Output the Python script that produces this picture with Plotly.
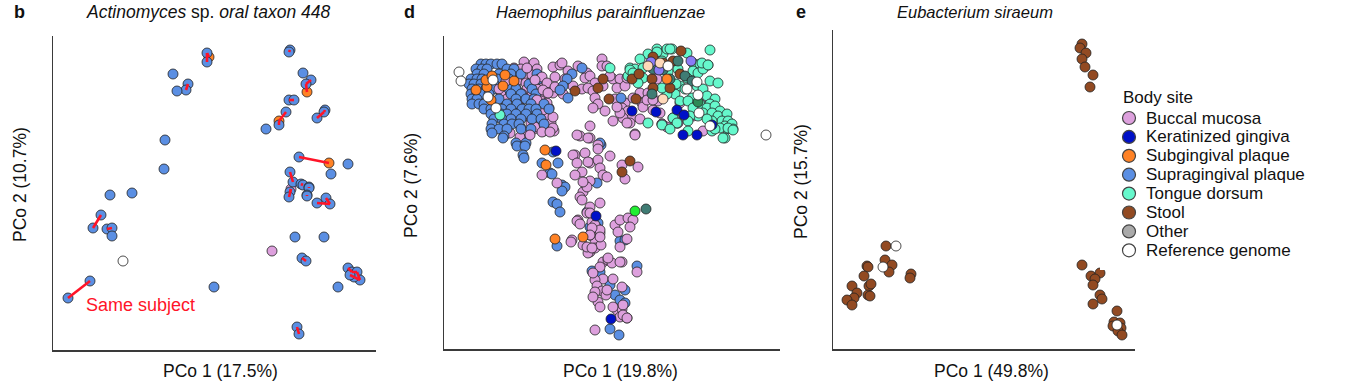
import plotly.graph_objects as go
from itertools import zip_longest

W, H = 1359, 389
FONT = "Liberation Sans, Arial, Helvetica, sans-serif"

# ---------------- colours ----------------
site_colors = {
    "Buccal mucosa": "#DDA0DD",
    "Keratinized gingiva": "#0010C8",
    "Subgingival plaque": "#FF8225",
    "Supragingival plaque": "#5B8FE3",
    "Tongue dorsum": "#66F8CC",
    "Stool": "#924A22",
    "Other": "#AAAAAA",
    "Reference genome": "#FFFFFF",
    "Other (teal)": "#3F7C74",
    "Other (violet)": "#8A7CF6",
    "Other (peach)": "#FFD9BA",
    "Other (green)": "#22EE33",
    "Other (seagreen)": "#2E8B57",
}
legend_sites = ["Buccal mucosa", "Keratinized gingiva", "Subgingival plaque",
                "Supragingival plaque", "Tongue dorsum", "Stool", "Other",
                "Reference genome"]
code = {"BM": "Buccal mucosa", "SbP": "Subgingival plaque", "SpP": "Supragingival plaque",
        "REF": "Reference genome"}

# ---------------- panel b: Actinomyces sp. oral taxon 448 ----------------
b_x = [209, 207, 207, 173, 188, 186, 177, 290, 289, 303, 311, 306, 307, 289, 294,
       325, 324, 317, 286, 279, 279, 266, 165, 164, 299, 329, 348, 331, 290, 293,
       301, 303, 309, 309, 307, 307, 290, 291, 289, 326, 330, 317, 110, 132, 101,
       93, 107, 112, 112, 295, 324, 272, 123, 302, 306, 348, 352, 357, 360, 354,
       350, 338, 90, 68, 214, 297, 299]
b_y = [57, 53, 62, 74, 84, 90, 91, 50, 52, 73, 80, 84, 92, 100, 100,
       110, 112, 118, 112, 121, 125, 129, 140, 169, 157, 163, 164, 174, 172, 182,
       184, 185, 187, 188, 195, 196, 192, 189, 197, 198, 204, 203, 195, 193, 215,
       228, 229, 228, 236, 237, 237, 251, 261, 258, 261, 268, 272, 272, 280, 277,
       275, 287, 281, 298, 287, 327, 334]
b_site = ["SbP", "SpP", "SpP", "SpP", "SpP", "SpP", "SpP", "SpP", "SpP", "SpP", "SpP", "SpP", "SbP", "SpP", "SpP",
          "SpP", "SpP", "SpP", "SpP", "SbP", "SpP", "SpP", "SpP", "SpP", "SpP", "SbP", "SpP", "SpP", "SpP", "SpP",
          "SpP", "SpP", "SpP", "SpP", "SpP", "SpP", "SpP", "BM", "SpP", "SpP", "SpP", "SpP", "SpP", "SpP", "SpP",
          "SpP", "SpP", "SpP", "SpP", "SpP", "SpP", "BM", "REF", "SpP", "SpP", "SpP", "SpP", "SpP", "SpP", "SpP",
          "SpP", "SpP", "SpP", "SpP", "SpP", "SpP", "SpP"]
b_subject = [1, 1, 1, 0, 2, 2, 0, 3, 3, 0, 4, 4, 4, 5, 5,
             6, 6, 6, 8, 8, 8, 0, 0, 0, 9, 9, 0, 0, 10, 10,
             11, 11, 12, 12, 13, 13, 14, 14, 14, 15, 15, 15, 0, 0, 16,
             16, 17, 17, 0, 0, 0, 0, 0, 18, 18, 19, 19, 19, 19, 19,
             19, 0, 20, 20, 0, 21, 21]

# ---------------- panel d: Haemophilus parainfluenzae ----------------
d_points = {
    "Supragingival plaque": [
        (481, 64), (486, 64), (491, 64), (497, 64), (502, 64),
        (476, 69), (482, 69), (487, 69), (507, 69), (514, 69),
        (477, 74), (484, 74), (499, 74), (511, 74), (521, 74), (537, 74),
        (471, 79), (477, 79), (482, 79), (497, 79), (509, 79), (539, 79),
        (469, 84), (474, 84), (481, 84), (494, 84), (511, 84), (529, 84),
        (472, 89), (479, 89), (486, 89), (494, 89), (509, 89), (516, 89), (532, 89),
        (471, 94), (477, 94), (482, 94), (489, 94), (511, 94), (521, 94), (536, 94),
        (472, 99), (477, 99), (499, 99), (516, 99), (526, 99), (534, 99),
        (472, 104), (479, 104), (484, 104), (507, 104), (517, 104), (531, 104), (544, 104),
        (484, 109), (491, 109), (502, 109), (511, 109), (522, 109), (529, 109), (536, 109), (549, 109),
        (491, 114), (501, 114), (507, 114), (516, 114), (526, 114), (537, 114),
        (494, 119), (502, 119), (511, 119), (521, 119), (532, 119), (541, 119),
        (492, 124), (504, 124), (512, 124), (519, 124), (544, 124),
        (491, 129), (499, 129), (507, 129), (521, 129), (531, 129),
        (504, 136), (516, 143), (526, 143),
        (492, 133), (503, 138), (517, 146), (525, 146), (523, 155), (524, 158), (542, 163),
        (558, 163), (550, 173), (553, 152), (552, 174), (562, 185), (565, 187), (562, 191),
        (553, 202), (557, 204), (560, 212), (597, 183), (598, 223), (590, 227), (557, 246),
        (620, 241), (625, 240), (637, 266), (592, 271), (600, 272), (610, 285), (625, 290),
        (615, 295), (620, 300), (625, 303), (610, 329), (619, 335), (601, 145), (587, 212),
        (572, 74), (567, 79), (563, 86), (568, 98), (621, 98), (600, 143), (582, 68), (560, 90)],
    "Buccal mucosa": [
        (524, 62), (534, 63), (514, 68), (521, 69), (529, 71), (537, 69), (512, 74), (524, 76),
        (532, 75), (541, 77), (517, 81), (526, 83), (536, 83), (544, 83), (506, 86), (516, 88),
        (527, 89), (537, 89), (546, 89), (501, 93), (511, 94), (522, 94), (532, 95), (542, 95),
        (507, 99), (519, 101), (531, 101), (541, 101), (506, 106), (521, 108), (534, 108),
        (549, 108), (524, 116), (536, 116), (547, 118), (511, 119), (531, 123), (541, 123),
        (551, 123), (521, 128), (534, 129), (544, 131), (554, 131), (527, 133), (499, 89),
        (506, 81), (527, 68), (542, 77), (535, 80), (547, 83), (543, 90), (553, 93), (537, 100),
        (547, 103), (543, 110), (553, 117), (553, 128), (535, 127), (528, 132), (520, 137),
        (510, 133), (553, 67), (560, 65), (555, 77), (555, 87), (548, 93),
        (562, 63), (568, 71), (578, 66), (587, 73), (585, 78), (590, 76), (602, 59), (602, 66),
        (607, 66), (595, 83), (603, 86), (613, 79), (620, 79), (617, 88), (625, 86), (627, 78),
        (573, 86), (582, 89), (588, 88), (593, 91), (565, 79), (563, 94), (595, 98), (598, 104),
        (593, 108), (605, 111), (615, 99), (625, 103), (642, 103), (640, 93), (622, 108),
        (628, 111), (632, 118), (623, 118), (613, 121), (640, 119), (662, 124), (590, 126),
        (580, 136), (590, 138), (635, 134), (630, 123), (610, 76), (648, 93), (658, 101),
        (657, 79), (653, 110), (660, 113), (673, 118), (677, 123), (667, 127), (627, 123),
        (620, 113), (617, 107), (643, 107), (647, 100), (653, 100), (633, 98), (680, 103),
        (675, 119), (678, 123), (662, 124), (693, 116), (703, 131), (702, 98),
        (530, 135), (542, 132), (550, 132), (577, 135), (588, 138), (598, 145), (575, 155),
        (590, 163), (598, 160), (582, 172), (575, 175), (587, 183), (590, 181), (583, 192),
        (580, 197), (582, 200), (590, 207), (542, 175), (557, 183), (578, 220), (587, 213),
        (592, 222), (597, 228), (572, 240), (595, 240),
        (571, 242), (590, 235), (600, 233), (583, 245), (590, 252), (595, 248), (601, 245),
        (588, 253), (603, 262), (608, 260), (612, 263), (622, 262), (637, 272), (603, 279),
        (595, 280), (613, 279), (597, 286), (602, 291), (595, 292), (606, 295), (598, 302),
        (600, 307), (622, 287), (617, 310), (622, 309), (623, 305), (620, 317), (627, 318),
        (595, 330), (623, 315),
        (598, 149), (610, 156), (635, 135), (622, 165), (638, 167), (625, 179), (600, 168),
        (603, 175), (607, 177), (587, 187), (600, 203), (590, 213), (615, 225), (620, 220),
        (628, 218), (633, 220), (630, 227), (595, 225), (600, 230), (592, 228), (600, 237),
        (590, 235), (618, 232), (627, 239), (620, 247), (608, 258), (620, 262), (600, 267),
        (593, 273), (607, 290), (593, 297), (613, 307), (627, 318), (573, 155), (585, 153),
        (577, 163), (588, 162), (583, 182), (577, 221), (580, 224), (587, 247), (592, 248)],
    "Tongue dorsum": [
        (500, 115), (610, 68), (648, 123), (657, 49), (648, 54), (640, 59), (630, 68), (635, 69),
        (643, 68), (643, 78), (638, 83), (628, 76), (663, 54), (662, 61), (667, 49), (662, 125),
        (672, 49), (687, 53), (710, 50), (693, 63), (700, 64), (708, 65), (693, 71), (698, 73),
        (703, 69), (687, 78), (678, 69), (680, 86), (685, 89), (675, 94), (667, 94), (697, 86),
        (710, 81), (718, 83), (703, 89), (692, 98), (680, 101), (688, 101), (707, 96), (715, 99),
        (700, 104), (710, 104), (707, 108), (715, 106), (720, 111), (703, 113), (712, 113),
        (693, 108), (698, 116), (718, 116), (727, 114), (722, 121), (728, 121), (725, 126),
        (732, 124), (733, 129), (727, 129), (712, 121), (707, 119), (720, 128), (690, 116),
        (688, 121), (673, 118), (677, 123), (712, 131), (715, 129), (725, 138), (688, 131),
        (670, 129), (670, 49), (657, 52), (630, 70), (633, 73), (723, 138), (728, 128),
        (733, 130), (702, 63), (708, 65), (652, 64), (668, 72), (676, 84), (662, 88)],
    "Stool": [
        (575, 91), (598, 88), (603, 79), (609, 99), (632, 79), (639, 74), (636, 99), (652, 79),
        (653, 88), (681, 51), (673, 61), (680, 74), (670, 88), (653, 57), (663, 63),
        (630, 161), (622, 172)],
    "Other (teal)": [(653, 69), (652, 94), (678, 61), (685, 76), (692, 81), (670, 79), (663, 70),
                     (646, 209)],
    "Other (violet)": [(651, 62), (659, 70), (691, 61)],
    "Other (peach)": [(648, 66), (660, 63), (663, 99)],
    "Keratinized gingiva": [(556, 151), (596, 216), (611, 319), (632, 111), (656, 112),
                            (677, 110), (684, 115), (683, 135), (697, 135), (712, 125)],
    "Subgingival plaque": [(476, 90), (487, 87), (486, 80), (492, 76), (505, 75), (514, 81),
                           (503, 86), (491, 100), (545, 150), (546, 165), (555, 239),
                           (583, 237), (667, 79)],
    "Other (green)": [(635, 211)],
    "Other (seagreen)": [(698, 102)],
    "Reference genome": [(459, 72), (461, 81), (493, 80), (488, 97), (496, 108), (668, 66),
                         (687, 89), (697, 82), (698, 95), (699, 113), (710, 126), (766, 135)],
}

# ---------------- panel e: Eubacterium siraeum ----------------
e_points = {
    "Stool": [
        (1082, 44), (1080, 48), (1086, 53), (1082, 59), (1085, 67), (1093, 75), (1090, 87),
        (886, 246), (885, 260), (892, 265), (889, 272), (867, 266), (868, 267), (864, 276),
        (852, 286), (869, 286), (871, 284), (857, 293), (854, 298), (847, 300), (852, 305),
        (868, 295), (870, 296), (911, 274), (910, 278),
        (1082, 265), (1091, 276), (1100, 273), (1095, 279), (1093, 285), (1100, 295),
        (1102, 299), (1093, 304), (1117, 311), (1114, 322), (1120, 323), (1113, 326),
        (1121, 328), (1118, 331), (1122, 335)],
    "Reference genome": [(896, 246), (883, 267), (1117, 325)],
}

fig = go.Figure()

def px(x):
    return x / W

def py(y):
    return 1 - y / H

marker_line = dict(color="#222222", width=0.8)
MS = 10

# panel b markers
order_b = ["SbP", "BM", "SpP", "REF"]
for c in order_b:
    site = code[c]
    xs = [x for x, s in zip(b_x, b_site) if s == c]
    ys = [y for y, s in zip(b_y, b_site) if s == c]
    fig.add_trace(go.Scatter(x=xs, y=ys, mode="markers", xaxis="x", yaxis="y",
                             marker=dict(size=MS, color=site_colors[site], line=marker_line),
                             showlegend=False, hoverinfo="skip"))
# same-subject lines
lx, ly = [], []
for subj in sorted(set(b_subject)):
    if subj == 0:
        continue
    idx = [i for i, s in enumerate(b_subject) if s == subj]
    for a, c in zip(idx[:-1], idx[1:]):
        lx += [b_x[a], b_x[c], None]
        ly += [b_y[a], b_y[c], None]
fig.add_trace(go.Scatter(x=lx, y=ly, mode="lines", xaxis="x", yaxis="y",
                         line=dict(color="#FF1428", width=2.6),
                         showlegend=False, hoverinfo="skip"))

# panel d markers: oral plaque and buccal samples interleaved so that neither hides the other
mixed = []
for a, b in zip_longest(d_points["Supragingival plaque"], d_points["Buccal mucosa"]):
    if b is not None:
        mixed.append((b, "Buccal mucosa"))
    if a is not None:
        mixed.append((a, "Supragingival plaque"))
for site, pts in d_points.items():
    if site in ("Supragingival plaque", "Buccal mucosa"):
        continue
    mixed += [(p, site) for p in pts]
fig.add_trace(go.Scatter(x=[p[0] for p, s in mixed], y=[p[1] for p, s in mixed],
                         mode="markers", xaxis="x2", yaxis="y2",
                         marker=dict(size=MS, color=[site_colors[s] for p, s in mixed],
                                     line=marker_line),
                         showlegend=False, hoverinfo="skip"))

# panel e markers
for site, pts in e_points.items():
    fig.add_trace(go.Scatter(x=[p[0] for p in pts], y=[p[1] for p in pts], mode="markers",
                             xaxis="x3", yaxis="y3",
                             marker=dict(size=MS, color=site_colors[site], line=marker_line),
                             showlegend=False, hoverinfo="skip"))

# legend (drawn in its own hidden axis)
leg_y = [118 + 18.9 * i for i in range(len(legend_sites))]
fig.add_trace(go.Scatter(x=[1129] * len(legend_sites), y=leg_y, mode="markers",
                         xaxis="x4", yaxis="y4",
                         marker=dict(size=13, color=[site_colors[s] for s in legend_sites],
                                     line=dict(color="#444444", width=1.2)),
                         showlegend=False, hoverinfo="skip"))

axis_common = dict(showgrid=False, zeroline=False, showticklabels=False, ticks="",
                   showline=True, linecolor="#3a3a3a", linewidth=1.5, fixedrange=True)

panels = {
    "": (53, 376, 36, 350),
    "2": (444, 780, 36, 349),
    "3": (833, 1135, 30, 349),
}
layout = dict(width=W, height=H, margin=dict(l=0, r=0, t=0, b=0),
              paper_bgcolor="white", plot_bgcolor="white", showlegend=False,
              font=dict(family=FONT, color="#111111"))
for k, (x0, x1, y0, y1) in panels.items():
    layout["xaxis" + k] = dict(axis_common, domain=[px(x0), px(x1)], range=[x0, x1],
                               anchor="y" + k)
    layout["yaxis" + k] = dict(axis_common, domain=[py(y1), py(y0)], range=[y1, y0],
                               anchor="x" + k)
layout["xaxis4"] = dict(visible=False, domain=[px(1100), 1.0], range=[1100, W], anchor="y4",
                        fixedrange=True)
layout["yaxis4"] = dict(visible=False, domain=[py(270), py(80)], range=[270, 80], anchor="x4",
                        fixedrange=True)
fig.update_layout(**layout)

ann = []
def text(x, y, t, size=16, angle=0, xanchor="center", color="#111111", xref="paper", yref="paper"):
    ann.append(dict(x=x, y=y, xref=xref, yref=yref, text=t, showarrow=False,
                    xanchor=xanchor, yanchor="middle", textangle=angle,
                    font=dict(size=size, color=color, family=FONT)))

# panel letters and titles
text(px(19), py(12), "<b>b</b>", size=18)
text(px(409), py(12), "<b>d</b>", size=18)
text(px(801), py(12), "<b>e</b>", size=18)
text(px(208), py(12), "<i>Actinomyces</i> sp. <i>oral taxon 448</i>", size=17.5)
text(px(600), py(12), "<i>Haemophilus parainfluenzae</i>", size=16.5)
text(px(975), py(12), "<i>Eubacterium siraeum</i>", size=16.5)
# axis titles
text(px(221), py(371), "PCo 1 (17.5%)", size=17.5)
text(px(620), py(371), "PCo 1 (19.8%)", size=17.5)
text(px(991), py(371), "PCo 1 (49.8%)", size=17.5)
text(px(20), py(185), "PCo 2 (10.7%)", size=17.5, angle=-90)
text(px(411), py(186), "PCo 2 (7.6%)", size=17.5, angle=-90)
text(px(801), py(182), "PCo 2 (15.7%)", size=17.5, angle=-90)
# same subject label
text(px(84), py(305), "Same subject", size=18, xanchor="left", color="#FF1428")
# legend texts
text(1121, 97, "Body site", size=17, xanchor="left", xref="x4", yref="y4")
for s, yy in zip(legend_sites, leg_y):
    text(1144, yy, s, size=17, xanchor="left", xref="x4", yref="y4")

fig.update_layout(annotations=ann)
fig.write_html("out.html", config={"displayModeBar": False, "staticPlot": True},
               post_script="document.body.style.margin='0';document.body.style.overflow='hidden';")
